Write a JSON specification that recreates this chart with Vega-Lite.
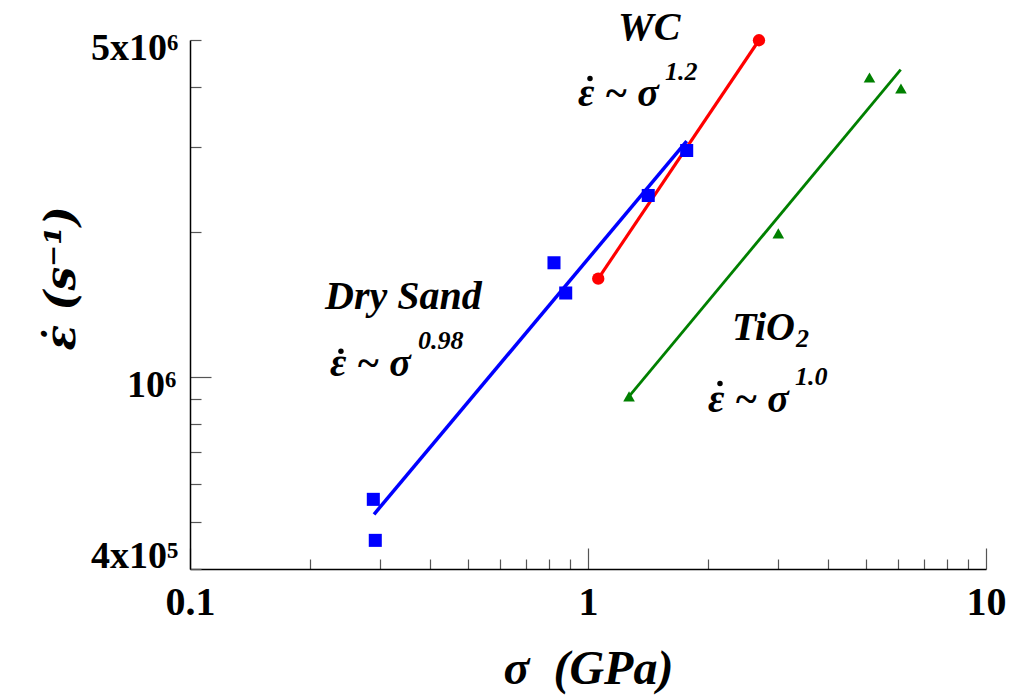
{
  "$schema": "https://vega.github.io/schema/vega-lite/v6.json",
  "width": 796,
  "height": 529,
  "autosize": "none",
  "padding": {"left": 190, "top": 40, "right": 27, "bottom": 129},
  "config": {"view": {"stroke": null}, "font": "Liberation Serif"},
  "datasets": {
    "fits": [
      {"series": "Dry Sand", "x": 0.290, "y": 519400},
      {"series": "Dry Sand", "x": 1.770, "y": 3084000},
      {"series": "WC", "x": 1.061, "y": 1600000},
      {"series": "WC", "x": 2.689, "y": 4994000},
      {"series": "TiO2", "x": 1.268, "y": 912000},
      {"series": "TiO2", "x": 6.105, "y": 4340000}
    ],
    "points": [
      {"series": "Dry Sand", "x": 0.2888, "y": 557800},
      {"series": "Dry Sand", "x": 0.2921, "y": 458600},
      {"series": "Dry Sand", "x": 0.8214, "y": 1726000},
      {"series": "Dry Sand", "x": 0.879, "y": 1494000},
      {"series": "Dry Sand", "x": 1.417, "y": 2380000},
      {"series": "Dry Sand", "x": 1.770, "y": 2950000},
      {"series": "WC", "x": 1.061, "y": 1600000},
      {"series": "WC", "x": 2.689, "y": 4994000},
      {"series": "TiO2", "x": 5.096, "y": 4180000},
      {"series": "TiO2", "x": 6.114, "y": 3966000},
      {"series": "TiO2", "x": 3.007, "y": 1986000},
      {"series": "TiO2", "x": 1.268, "y": 912000}
    ],
    "notes": [
      {"text": "WC", "kind": "main", "x": 1.190, "y": 5010000},
      {"text": "ε ~ σ", "kind": "main", "x": 0.944, "y": 3640000},
      {"text": "1.2", "kind": "small", "x": 1.561, "y": 4140000},
      {"text": "Dry Sand", "kind": "main", "x": 0.2184, "y": 1381000},
      {"text": "ε ~ σ", "kind": "main", "x": 0.2248, "y": 1003000},
      {"text": "0.98", "kind": "small", "x": 0.374, "y": 1141000},
      {"text": "TiO", "kind": "main", "x": 2.30, "y": 1191000},
      {"text": "2", "kind": "small", "x": 3.331, "y": 1152000},
      {"text": "ε ~ σ", "kind": "main", "x": 2.002, "y": 845000},
      {"text": "1.0", "kind": "small", "x": 3.312, "y": 961000}
    ],
    "dots": [
      {"x": 1.0116, "y": 4160000},
      {"x": 0.2395, "y": 1131000},
      {"x": 2.146, "y": 970000}
    ]
  },
  "encoding": {
    "x": {
      "field": "x", "type": "quantitative",
      "scale": {"type": "log", "domain": [0.1, 10], "nice": false},
      "axis": {
        "title": "σ\u00a0\u00a0(GPa)",
        "values": [0.1, 0.2, 0.3, 0.4, 0.5, 0.6, 0.7, 0.8, 0.9, 1, 2, 3, 4, 5, 6, 7, 8, 9, 10],
        "labelExpr": "datum.value == 0.1 ? '0.1' : datum.value == 1 ? '1' : datum.value == 10 ? '10' : ''",
        "tickSize": {"condition": {"test": "datum.value == 0.1 || datum.value == 1 || datum.value == 10", "value": -21}, "value": -10},
        "labelPadding": 34,
        "labelFont": "Liberation Serif", "labelFontWeight": "bold", "labelFontSize": 40, "labelColor": "black",
        "titleFont": "Liberation Serif", "titleFontWeight": "bold", "titleFontStyle": "italic", "titleFontSize": 48, "titleColor": "black",
        "titleY": 114, "titleBaseline": "alphabetic",
        "domainColor": "black", "domainWidth": 1.5, "tickColor": "#555555", "tickWidth": 1.2,
        "grid": false, "labelOverlap": false, "labelFlush": false, "labelBound": false
      }
    },
    "y": {
      "field": "y", "type": "quantitative",
      "scale": {"type": "log", "domain": [400000, 5000000], "nice": false},
      "axis": {
        "title": "ε̇ (s⁻¹)",
        "values": [400000, 500000, 600000, 700000, 800000, 900000, 1000000, 2000000, 3000000, 4000000, 5000000],
        "labelExpr": "datum.value == 400000 ? '4x10⁵' : datum.value == 1000000 ? '10⁶' : datum.value == 5000000 ? '5x10⁶' : ''",
        "tickSize": {"condition": {"test": "datum.value == 1000000", "value": -21}, "value": -11},
        "labelPadding": {"condition": {"test": "datum.value == 1000000", "value": 35}, "value": 23},
        "labelOffset": {"condition": {"test": "datum.value == 400000", "value": -13}, "value": 8},
        "labelFont": "Liberation Serif", "labelFontWeight": "bold", "labelFontSize": 38, "labelColor": "black",
        "titleFont": "DejaVu Serif", "titleFontWeight": "bold", "titleFontStyle": "italic", "titleFontSize": 42, "titleColor": "black",
        "titleX": -107, "titleY": 238, "titleBaseline": "bottom", "titleAngle": -90,
        "domainColor": "black", "domainWidth": 1.5, "tickColor": "#555555", "tickWidth": 1.2,
        "grid": false, "labelOverlap": false, "labelFlush": false, "labelBound": false
      }
    }
  },
  "layer": [
    {
      "data": {"name": "fits"},
      "mark": {"type": "line"},
      "encoding": {
        "detail": {"field": "series"},
        "color": {"field": "series", "type": "nominal", "scale": {"domain": ["Dry Sand", "WC", "TiO2"], "range": ["#0000ff", "#ff0000", "#008000"]}, "legend": null},
        "strokeWidth": {"field": "series", "type": "nominal", "scale": {"domain": ["Dry Sand", "WC", "TiO2"], "range": [3.5, 2.8, 2.8]}, "legend": null}
      }
    },
    {
      "data": {"name": "points"},
      "mark": {"type": "point", "filled": true, "opacity": 1},
      "encoding": {
        "color": {"field": "series", "type": "nominal", "scale": {"domain": ["Dry Sand", "WC", "TiO2"], "range": ["#0000ff", "#ff0000", "#008000"]}, "legend": null},
        "shape": {"field": "series", "type": "nominal", "scale": {"domain": ["Dry Sand", "WC", "TiO2"], "range": ["square", "circle", "triangle-up"]}, "legend": null},
        "size": {"field": "series", "type": "nominal", "scale": {"domain": ["Dry Sand", "WC", "TiO2"], "range": [170, 135, 180]}, "legend": null}
      }
    },
    {
      "data": {"name": "dots"},
      "mark": {"type": "point", "filled": true, "opacity": 1, "shape": "circle", "color": "black", "size": 30},
      "encoding": {}
    },
    {
      "data": {"name": "notes"},
      "transform": [{"filter": "datum.kind == 'main'"}],
      "mark": {"type": "text", "align": "left", "baseline": "alphabetic", "font": "Liberation Serif", "fontWeight": "bold", "fontStyle": "italic", "fontSize": 40, "color": "black"},
      "encoding": {"text": {"field": "text"}}
    },
    {
      "data": {"name": "notes"},
      "transform": [{"filter": "datum.kind == 'small'"}],
      "mark": {"type": "text", "align": "left", "baseline": "alphabetic", "font": "Liberation Serif", "fontWeight": "bold", "fontStyle": "italic", "fontSize": 26, "color": "black"},
      "encoding": {"text": {"field": "text"}}
    }
  ]
}
